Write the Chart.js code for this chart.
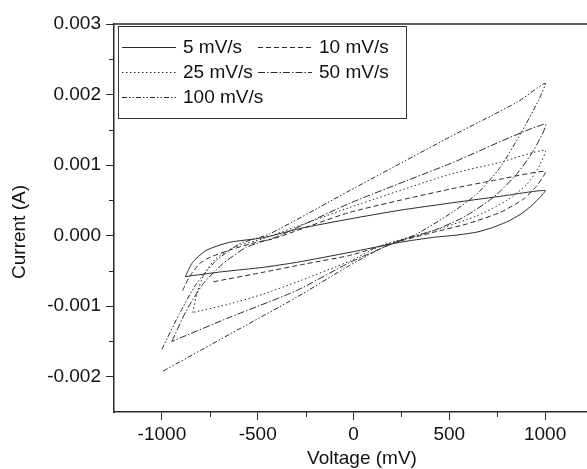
<!DOCTYPE html>
<html>
<head>
<meta charset="utf-8">
<script src="https://cdn.jsdelivr.net/npm/chart.js@4"></script>
<style>
  html, body { margin: 0; padding: 0; background: #fff; overflow: hidden; }
  canvas { display: block; }
</style>
</head>
<body>
<canvas id="cvChart" width="600" height="469"></canvas>
<script>
// scan rates shown in the legend
const labels = ['5 mV/s', '10 mV/s', '25 mV/s', '50 mV/s', '100 mV/s'];

// voltage (mV) / current (A), forward scan then reverse
const v5 = [-878, -840, -770, -648, -473, -281, -19, 242, 500, 760, 1000, 965, 923, 870, 800, 720, 644, 530, 417, 242, -19, -298, -473, -683, -878];
const i5 = [-0.00058, -0.00038, -0.00021, -0.000095, -0.00003, 0.0001, 0.000237, 0.00036, 0.00046, 0.000555, 0.00064,
            0.00052, 0.00041, 0.0003, 0.000195, 0.00011, 0.00005, 0.000005, -0.000024, -0.000095, -0.000237, -0.000379, -0.00045, -0.000511, -0.00058];

const v10 = [-892, -860, -805, -752, -630, -508, -421, -19, 504, 766, 1000, 958, 888, 766, 592, 417, 155, -19, -250, -473, -743];
const i10 = [-0.00078, -0.0006, -0.0004, -0.00031, -0.00019, -0.000095, -0.000047, 0.00033, 0.00066, 0.0008, 0.00091,
             0.00071, 0.00052, 0.00033, 0.000166, 0.000047, -0.00014, -0.00028, -0.0004, -0.00052, -0.00066];

const v25 = [-840, -815, -780, -720, -620, -480, -19, 504, 766, 1000, 966, 906, 801, 644, 417, 155, -19, -298, -473, -648, -840];
const i25 = [-0.00109, -0.0008, -0.00055, -0.00033, -0.00016, -0.00005, 0.0004, 0.00087, 0.00104, 0.00121,
             0.00097, 0.00073, 0.0005, 0.00028, 0.00007, -0.00013, -0.00036, -0.00066, -0.00083, -0.00097, -0.00109];

const v50 = [-948, -874, -787, -683, -560, -386, -19, 504, 1000, 940, 853, 731, 574, 417, 242, -19, -298, -648, -948];
const i50 = [-0.0015, -0.00107, -0.00069, -0.0004, -0.000166, 0.0, 0.00046, 0.00102, 0.00158,
             0.00121, 0.000876, 0.000544, 0.00026, 0.000071, -0.000071, -0.00038, -0.00078, -0.00116, -0.0015];

const v100 = [-1000, -909, -822, -717, -595, -438, -19, 504, 853, 1000, 966, 871, 766, 644, 504, 330, 155, -19, -298, -648, -1000];
const i100 = [-0.00161, -0.00111, -0.00069, -0.000355, -0.000118, 0.000024, 0.00064, 0.0014, 0.00189, 0.00216,
              0.00192, 0.00144, 0.00097, 0.00059, 0.00031, 0.000024, -0.000166, -0.00042, -0.000876, -0.0014, -0.00193];

const xTicks = [-1000, -500, 0, 500, 1000];
const xMinor = [-750, -250, 250, 750];
const yTicks = [-0.002, -0.001, 0, 0.001, 0.002, 0.003];
const yMinor = [-0.0015, -0.0005, 0.0005, 0.0015, 0.0025];

const FONT = '"Liberation Sans", Arial, sans-serif';
const INK = '#2a2a2a';
const dashes = [[], [5, 3], [1.5, 2.5], [7, 2, 1.5, 2], [5, 2, 1.5, 2, 1.5, 2]];

function pts(vs, is) {
  return vs.map((v, k) => ({ x: v, y: is[k] }));
}
const series = [[v5, i5], [v10, i10], [v25, i25], [v50, i50], [v100, i100]];

const datasets = series.map((s, k) => ({
  label: labels[k],
  data: pts(s[0], s[1]),
  showLine: true,
  borderColor: INK,
  borderWidth: 1,
  borderDash: dashes[k],
  pointRadius: 0,
  tension: 0.2,
  fill: false
}));

// frame top, minor ticks, axis titles and the boxed legend
const extras = {
  id: 'extras',
  afterDraw(chart) {
    const c = chart.ctx, a = chart.chartArea;
    const sx = chart.scales.x, sy = chart.scales.y;
    c.save();
    c.strokeStyle = INK;
    c.lineWidth = 1.5;
    c.beginPath();
    c.moveTo(a.left, a.top);
    c.lineTo(chart.width, a.top);
    c.stroke();

    c.lineWidth = 1;
    c.beginPath();
    xMinor.forEach(v => {
      const px = Math.round(sx.getPixelForValue(v)) + 0.5;
      c.moveTo(px, a.bottom);
      c.lineTo(px, a.bottom + 5);
    });
    yMinor.forEach(v => {
      const py = Math.round(sy.getPixelForValue(v)) + 0.5;
      c.moveTo(a.left, py);
      c.lineTo(a.left - 5, py);
    });
    c.stroke();

    c.fillStyle = '#111';
    c.font = '19px ' + FONT;
    c.textAlign = 'center';
    c.textBaseline = 'middle';
    c.fillText('Voltage (mV)', 362, 459);
    c.save();
    c.translate(20, 232);
    c.rotate(-Math.PI / 2);
    c.fillText('Current (A)', 0, 0);
    c.restore();

    // legend box
    c.strokeStyle = '#333';
    c.lineWidth = 1;
    c.strokeRect(118.5, 26.5, 288, 92);
    const spots = [[122, 47], [258, 47], [122, 72], [258, 72], [122, 97]];
    c.textAlign = 'left';
    labels.forEach((lab, k) => {
      const [lx, ly] = spots[k];
      c.strokeStyle = INK;
      c.setLineDash(dashes[k]);
      c.beginPath();
      c.moveTo(lx, ly + 0.5);
      c.lineTo(lx + 54, ly + 0.5);
      c.stroke();
      c.setLineDash([]);
      c.fillText(lab, lx + 61, ly + 1);
    });
    c.restore();
  }
};

const ctx = document.getElementById('cvChart').getContext('2d');
const cvChart = new Chart(ctx, {
  type: 'scatter',
  data: { datasets: datasets },
  options: {
    responsive: false,
    animation: false,
    devicePixelRatio: 1,
    layout: { padding: { top: 24, left: 0, right: 7, bottom: 0 } },
    plugins: { legend: { display: false }, tooltip: { enabled: false } },
    scales: {
      x: {
        type: 'linear',
        min: -1250,
        max: 1250,
        afterBuildTicks: s => { s.ticks = xTicks.map(v => ({ value: v })); },
        afterFit: s => { s.height = 57; },
        grid: { drawOnChartArea: false, drawTicks: true, tickLength: 8, color: INK },
        border: { display: true, color: INK, width: 1.5 },
        ticks: { color: '#111', font: { family: FONT, size: 19 }, maxRotation: 0, autoSkip: false, padding: 3,
                 callback: v => String(v) }
      },
      y: {
        type: 'linear',
        min: -0.0025,
        max: 0.003,
        afterBuildTicks: s => { s.ticks = yTicks.map(v => ({ value: v })); },
        afterFit: s => { s.width = 114; },
        grid: { drawOnChartArea: false, drawTicks: true, tickLength: 8, color: INK },
        border: { display: true, color: INK, width: 1.5 },
        ticks: { color: '#111', font: { family: FONT, size: 19 }, padding: 5,
                 callback: v => v.toFixed(3) }
      }
    }
  },
  plugins: [extras]
});
</script>
</body>
</html>
